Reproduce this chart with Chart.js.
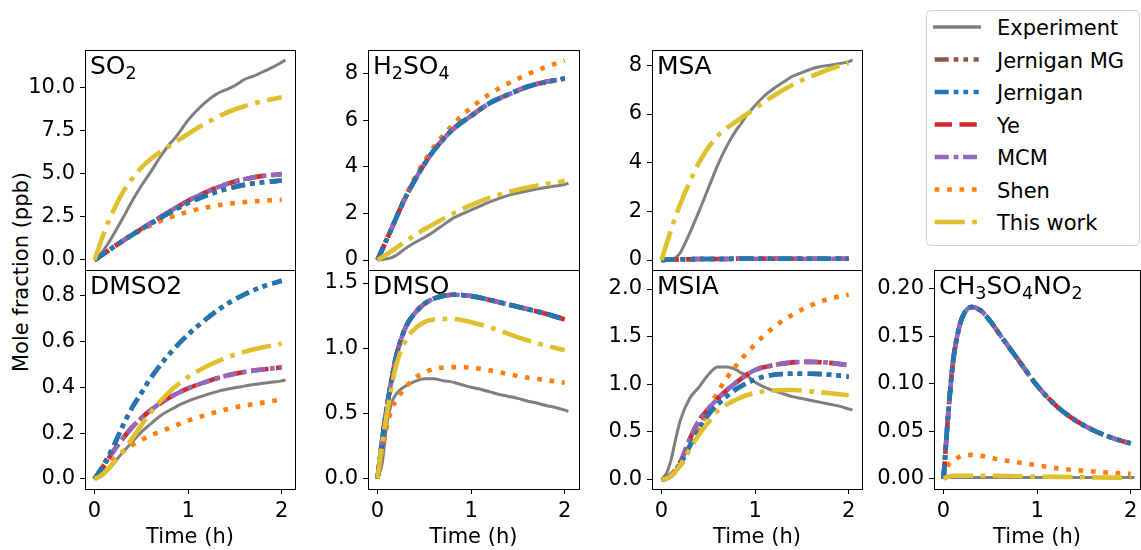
<!DOCTYPE html>
<html>
<head>
<meta charset="utf-8">
<script src="https://cdn.jsdelivr.net/npm/chart.js@4.4.1/dist/chart.umd.min.js"></script>
<style>
  html, body { margin: 0; padding: 0; background: #fff; overflow: hidden; }
  body { width: 1141px; height: 550px; position: relative; font-family: 'DejaVu Sans', sans-serif; }
  canvas { position: absolute; }
  #ylabel {
    position: absolute; left: 21px; top: 272px; font-size: 21px; white-space: nowrap;
    transform: translate(-50%, -50%) rotate(-90deg);
  }
  #legend { position: absolute; left: 926px; top: 10px; }
</style>
</head>
<body>
<div id="ylabel">Mole fraction (ppb)</div>
<svg id="legend" width="214" height="236"></svg>
<script>
// time axes (h)
const timeModel = [0, 0.05, 0.1, 0.15, 0.2, 0.3, 0.4, 0.5, 0.6, 0.8, 1.0, 1.2, 1.4, 1.6, 1.8, 2.0];
const timeExp = [0, 0.05, 0.1, 0.15, 0.2, 0.3, 0.4, 0.5, 0.6, 0.7, 0.8, 0.85, 0.9, 1.0, 1.1, 1.2, 1.3, 1.4, 1.5, 1.6, 1.7, 1.8, 1.9, 2.0, 2.04];

const panelNames = ['SO_2', 'H_2SO_4', 'MSA', 'DMSO2', 'DMSO', 'MSIA', 'CH_3SO_4NO_2'];

// SO2
const so2Exp = [0, 0.25, 0.6, 1.0, 1.45, 2.4, 3.4, 4.3, 5.1, 5.95, 6.7, 7.0, 7.35, 8.1, 8.7, 9.2, 9.6, 9.85, 10.1, 10.45, 10.65, 10.9, 11.15, 11.45, 11.58];
const so2Jernigan = [0, 0.18, 0.37, 0.55, 0.74, 1.1, 1.45, 1.78, 2.1, 2.73, 3.3, 3.75, 4.1, 4.35, 4.5, 4.6];
const so2Mcm = [0, 0.18, 0.37, 0.55, 0.74, 1.1, 1.46, 1.8, 2.14, 2.8, 3.43, 3.95, 4.38, 4.68, 4.87, 4.97];
const so2Shen = [0, 0.19, 0.38, 0.57, 0.75, 1.1, 1.43, 1.73, 2.0, 2.45, 2.8, 3.05, 3.23, 3.35, 3.43, 3.48];
const so2ThisWork = [0, 0.8, 1.55, 2.25, 2.85, 3.9, 4.7, 5.35, 5.85, 6.6, 7.3, 7.95, 8.5, 8.9, 9.2, 9.42];

// H2SO4
const h2so4Exp = [0, 0.02, 0.05, 0.1, 0.2, 0.5, 0.75, 0.97, 1.22, 1.5, 1.78, 1.88, 1.97, 2.15, 2.33, 2.5, 2.65, 2.78, 2.88, 2.97, 3.05, 3.12, 3.18, 3.25, 3.3];
const h2so4Jernigan = [0, 0.45, 0.9, 1.35, 1.82, 2.7, 3.45, 4.12, 4.7, 5.6, 6.2, 6.75, 7.12, 7.45, 7.65, 7.8];
const h2so4Mcm = [0, 0.45, 0.9, 1.35, 1.82, 2.7, 3.45, 4.12, 4.7, 5.6, 6.2, 6.75, 7.12, 7.45, 7.66, 7.8];
const h2so4Shen = [0, 0.45, 0.9, 1.37, 1.85, 2.75, 3.55, 4.25, 4.85, 5.8, 6.55, 7.15, 7.6, 7.98, 8.3, 8.58];
const h2so4ThisWork = [0, 0.12, 0.25, 0.38, 0.52, 0.8, 1.07, 1.32, 1.55, 1.98, 2.36, 2.68, 2.93, 3.12, 3.27, 3.4];

// MSA
const msaExp = [0, 0, 0.02, 0.1, 0.3, 1.1, 2.0, 2.95, 3.9, 4.7, 5.35, 5.6, 5.9, 6.35, 6.75, 7.05, 7.3, 7.55, 7.7, 7.85, 7.95, 8.0, 8.07, 8.15, 8.22];
const msaModels = [0, 0.01, 0.02, 0.02, 0.03, 0.03, 0.04, 0.04, 0.04, 0.05, 0.05, 0.05, 0.05, 0.05, 0.05, 0.05];
const msaThisWork = [0, 0.62, 1.22, 1.8, 2.3, 3.2, 4.0, 4.62, 5.1, 5.7, 6.22, 6.75, 7.2, 7.55, 7.85, 8.1];

// DMSO2
const dmso2Exp = [0, 0.005, 0.02, 0.04, 0.065, 0.115, 0.16, 0.205, 0.24, 0.275, 0.3, 0.31, 0.322, 0.34, 0.355, 0.368, 0.38, 0.39, 0.398, 0.405, 0.412, 0.418, 0.423, 0.428, 0.432];
const dmso2Jernigan = [0, 0.03, 0.065, 0.1, 0.14, 0.23, 0.31, 0.375, 0.44, 0.545, 0.63, 0.7, 0.76, 0.805, 0.84, 0.865];
const dmso2Mcm = [0, 0.03, 0.06, 0.09, 0.12, 0.175, 0.225, 0.265, 0.3, 0.355, 0.395, 0.425, 0.45, 0.467, 0.478, 0.487];
const dmso2Shen = [0, 0.022, 0.043, 0.063, 0.083, 0.118, 0.147, 0.17, 0.19, 0.222, 0.255, 0.28, 0.303, 0.32, 0.333, 0.347];
const dmso2ThisWork = [0, 0.01, 0.025, 0.045, 0.07, 0.12, 0.175, 0.235, 0.29, 0.38, 0.445, 0.492, 0.528, 0.555, 0.575, 0.59];

// DMSO
const dmsoExp = [0, 0.12, 0.42, 0.58, 0.65, 0.71, 0.745, 0.765, 0.765, 0.75, 0.74, 0.73, 0.72, 0.7, 0.685, 0.665, 0.645, 0.63, 0.615, 0.595, 0.58, 0.56, 0.545, 0.525, 0.515];
const dmsoJernigan = [0, 0.3, 0.55, 0.76, 0.94, 1.16, 1.27, 1.34, 1.38, 1.41, 1.4, 1.37, 1.335, 1.3, 1.265, 1.22];
const dmsoMcm = [0, 0.3, 0.55, 0.76, 0.94, 1.16, 1.27, 1.34, 1.38, 1.41, 1.4, 1.37, 1.335, 1.3, 1.265, 1.22];
const dmsoShen = [0, 0.22, 0.4, 0.53, 0.6, 0.7, 0.77, 0.815, 0.84, 0.855, 0.85, 0.83, 0.8, 0.775, 0.755, 0.735];
const dmsoThisWork = [0, 0.27, 0.5, 0.7, 0.87, 1.06, 1.15, 1.2, 1.22, 1.225, 1.2, 1.16, 1.11, 1.06, 1.02, 0.985];

// MSIA
const msiaExp = [0, 0.06, 0.2, 0.42, 0.62, 0.85, 0.97, 1.1, 1.18, 1.18, 1.15, 1.12, 1.1, 1.02, 0.97, 0.93, 0.9, 0.87, 0.85, 0.83, 0.81, 0.79, 0.77, 0.74, 0.73];
const msiaJernigan = [0, 0.01, 0.04, 0.09, 0.16, 0.35, 0.53, 0.68, 0.79, 0.95, 1.05, 1.1, 1.11, 1.11, 1.1, 1.08];
const msiaMcm = [0, 0.015, 0.05, 0.1, 0.18, 0.42, 0.62, 0.74, 0.85, 1.02, 1.15, 1.2, 1.23, 1.235, 1.225, 1.2];
const msiaShen = [0, 0.01, 0.04, 0.08, 0.14, 0.32, 0.52, 0.73, 0.92, 1.2, 1.42, 1.6, 1.73, 1.83, 1.9, 1.94];
const msiaThisWork = [0, 0.01, 0.04, 0.09, 0.15, 0.32, 0.47, 0.6, 0.72, 0.84, 0.91, 0.935, 0.94, 0.925, 0.905, 0.885];

// CH3SO4NO2
const ch3Exp = [0, 0.001, 0.001, 0.001, 0.001, 0.001, 0.001, 0.001, 0.001, 0.001, 0.001, 0.001, 0.001, 0.001, 0.001, 0.001, 0.001, 0.001, 0.001, 0.001, 0.001, 0.001, 0.001, 0.001, 0.001];
const ch3Jernigan = [0, 0.068, 0.122, 0.152, 0.17, 0.181, 0.177, 0.166, 0.152, 0.125, 0.098, 0.077, 0.062, 0.051, 0.043, 0.037];
const ch3Mcm = [0, 0.068, 0.122, 0.152, 0.17, 0.181, 0.177, 0.166, 0.152, 0.125, 0.098, 0.077, 0.062, 0.051, 0.043, 0.037];
const ch3Shen = [0, 0.014, 0.019, 0.022, 0.024, 0.025, 0.024, 0.022, 0.02, 0.017, 0.014, 0.011, 0.009, 0.0075, 0.006, 0.005];
const ch3ThisWork = [0, 0.002, 0.003, 0.003, 0.003, 0.003, 0.003, 0.003, 0.0028, 0.0025, 0.002, 0.0018, 0.0015, 0.0012, 0.001, 0.001];

// tick labels
const xTicks = [0, 1, 2];
const yTicks = [
  [0, 2.5, 5, 7.5, 10],
  [0, 2, 4, 6, 8],
  [0, 2, 4, 6, 8],
  [0, 0.2, 0.4, 0.6, 0.8],
  [0, 0.5, 1.0, 1.5],
  [0, 0.5, 1.0, 1.5, 2.0],
  [0, 0.05, 0.10, 0.15, 0.20]
];
const yDecimals = [1, 0, 0, 1, 1, 1, 2];
const yRanges = [[-0.58, 12.16], [-0.43, 9.03], [-0.41, 8.63], [-0.044, 0.912], [-0.08, 1.6], [-0.1, 2.2], [-0.011, 0.22]];

// per panel: exp, jernigan MG, jernigan, ye, mcm, shen, this work
const panelData = [
  [so2Exp, so2Jernigan, so2Jernigan, so2Mcm, so2Mcm, so2Shen, so2ThisWork],
  [h2so4Exp, h2so4Jernigan, h2so4Jernigan, h2so4Mcm, h2so4Mcm, h2so4Shen, h2so4ThisWork],
  [msaExp, msaModels, msaModels, msaModels, msaModels, msaModels, msaThisWork],
  [dmso2Exp, dmso2Jernigan, dmso2Jernigan, dmso2Mcm, dmso2Mcm, dmso2Shen, dmso2ThisWork],
  [dmsoExp, dmsoJernigan, dmsoJernigan, dmsoMcm, dmsoMcm, dmsoShen, dmsoThisWork],
  [msiaExp, msiaJernigan, msiaJernigan, msiaMcm, msiaMcm, msiaShen, msiaThisWork],
  [ch3Exp, ch3Jernigan, ch3Jernigan, ch3Mcm, ch3Mcm, ch3Shen, ch3ThisWork]
];

const seriesStyle = [
  { label: 'Experiment',  color: '#7f7f7f', width: 3,   dash: [],                       order: 6 },
  { label: 'Jernigan MG', color: '#8c564b', width: 4.6, dash: [14, 5, 4.7, 5, 4.7, 5.5], order: 2 },
  { label: 'Jernigan',    color: '#1f77b4', width: 4.6, dash: [14, 5, 4.7, 5, 4.7, 5.5], order: 1 },
  { label: 'Ye',          color: '#d62728', width: 4.6, dash: [17.3, 7.5],              order: 4 },
  { label: 'MCM',         color: '#9467bd', width: 4.6, dash: [14, 5, 4.7, 4.6],        order: 3 },
  { label: 'Shen',        color: '#ff7f0e', width: 4.6, dash: [4.7, 7.7],               order: 5 },
  { label: 'This work',   color: '#e0c02c', width: 4.6, dash: [30, 7.5, 4.7, 7.5],      order: 0 }
];

// page layout of the plot areas
const X_MIN = -0.102;
const PX_PER_H = 210 / 2.244;
const Y_AXIS_W = 75;
const boxes = [
  { left: 85,  top: 50,  w: 210, h: 220, row: 0 },
  { left: 368, top: 50,  w: 211, h: 220, row: 0 },
  { left: 652, top: 50,  w: 210, h: 220, row: 0 },
  { left: 85,  top: 270, w: 210, h: 219, row: 1 },
  { left: 368, top: 270, w: 211, h: 219, row: 1 },
  { left: 652, top: 270, w: 210, h: 219, row: 1 },
  { left: 934, top: 270, w: 206, h: 219, row: 1 }
];

Chart.defaults.font.family = "'DejaVu Sans', sans-serif";
Chart.defaults.font.size = 21;
Chart.defaults.color = '#000';

const framePlugin = {
  id: 'frame',
  afterDraw(chart) {
    const a = chart.chartArea, ctx = chart.ctx;
    ctx.save();
    ctx.strokeStyle = '#000';
    ctx.lineWidth = 1;
    ctx.setLineDash([]);
    ctx.strokeRect(a.left + 0.5, a.top + 0.5, a.right - a.left, a.bottom - a.top);
    ctx.restore();
  }
};

function drawFormula(ctx, text, x, y) {
  let i = 0;
  while (i < text.length) {
    let sub = false;
    if (text[i] === '_') { sub = true; i++; }
    const ch = text[i];
    ctx.font = (sub ? 17.5 : 25) + "px 'DejaVu Sans'";
    ctx.fillText(ch, x, sub ? y + 5 : y);
    x += ctx.measureText(ch).width;
    i++;
  }
}

function titlePlugin(name) {
  return {
    id: 'panelTitle',
    afterDraw(chart) {
      const a = chart.chartArea, ctx = chart.ctx;
      ctx.save();
      ctx.fillStyle = '#000';
      ctx.textBaseline = 'alphabetic';
      ctx.textAlign = 'left';
      drawFormula(ctx, name, a.left + 5, a.top + 24);
      ctx.restore();
    }
  };
}

boxes.forEach((box, p) => {
  const bottomRow = box.row === 1;
  const padRight = p === 6 ? 1 : 10;
  const xAxisH = bottomRow ? 61 : 20;
  const canvas = document.createElement('canvas');
  canvas.width = Y_AXIS_W + box.w + padRight;
  canvas.height = 20 + box.h + xAxisH;
  canvas.style.left = (box.left - Y_AXIS_W) + 'px';
  canvas.style.top = (box.top - 20) + 'px';
  document.body.appendChild(canvas);

  const datasets = seriesStyle.map((s, k) => {
    const t = k === 0 ? timeExp : timeModel;
    return {
      label: s.label,
      data: panelData[p][k].map((v, i) => ({ x: t[i], y: v })),
      borderColor: s.color,
      borderWidth: s.width,
      borderDash: s.dash,
      borderCapStyle: 'butt',
      pointRadius: 0,
      fill: false,
      cubicInterpolationMode: 'monotone',
      order: s.order
    };
  });

  new Chart(canvas.getContext('2d'), {
    type: 'line',
    data: { datasets },
    options: {
      responsive: false,
      animation: false,
      layout: { padding: { top: 20, right: padRight, bottom: 0, left: 0 } },
      plugins: { legend: { display: false }, tooltip: { enabled: false } },
      scales: {
        x: {
          type: 'linear',
          min: X_MIN,
          max: X_MIN + box.w / PX_PER_H,
          border: { display: false },
          grid: { display: bottomRow, drawOnChartArea: false, color: '#000', tickLength: 5 },
          ticks: { display: bottomRow, padding: 5, callback: v => String(v) },
          title: { display: bottomRow, text: 'Time (h)', padding: 0 },
          afterBuildTicks: s => { s.ticks = xTicks.map(v => ({ value: v })); },
          afterFit: s => { s.height = xAxisH; s.paddingLeft = 0; s.paddingRight = 0; }
        },
        y: {
          type: 'linear',
          min: yRanges[p][0],
          max: yRanges[p][1],
          border: { display: false },
          grid: { drawOnChartArea: false, color: '#000', tickLength: 5 },
          ticks: { padding: 5, callback: v => v.toFixed(yDecimals[p]) },
          afterBuildTicks: s => { s.ticks = yTicks[p].map(v => ({ value: v })); },
          afterFit: s => { s.width = Y_AXIS_W; s.paddingTop = 0; s.paddingBottom = 0; }
        }
      }
    },
    plugins: [framePlugin, titlePlugin(panelNames[p])]
  });
});

// legend box
const svgNS = 'http://www.w3.org/2000/svg';
const legend = document.getElementById('legend');
const frame = document.createElementNS(svgNS, 'rect');
frame.setAttribute('x', 0.5); frame.setAttribute('y', 0.5);
frame.setAttribute('width', 213); frame.setAttribute('height', 235);
frame.setAttribute('rx', 4);
frame.setAttribute('fill', '#fff'); frame.setAttribute('stroke', '#d0d0d0');
legend.appendChild(frame);
seriesStyle.forEach((s, k) => {
  const y = 17 + k * 32.5;
  const line = document.createElementNS(svgNS, 'line');
  line.setAttribute('x1', k === 0 ? 7 : 8.7);
  line.setAttribute('x2', k === 0 ? 55 : 52.7);
  line.setAttribute('y1', y); line.setAttribute('y2', y);
  line.setAttribute('stroke', s.color);
  line.setAttribute('stroke-width', k === 0 ? 3.3 : 4.6);
  if (s.dash.length) line.setAttribute('stroke-dasharray', s.dash.join(' '));
  legend.appendChild(line);
  const text = document.createElementNS(svgNS, 'text');
  text.setAttribute('x', 71); text.setAttribute('y', y + 8);
  text.setAttribute('font-family', 'DejaVu Sans');
  text.setAttribute('font-size', 21);
  text.textContent = s.label;
  legend.appendChild(text);
});
</script>
</body>
</html>
